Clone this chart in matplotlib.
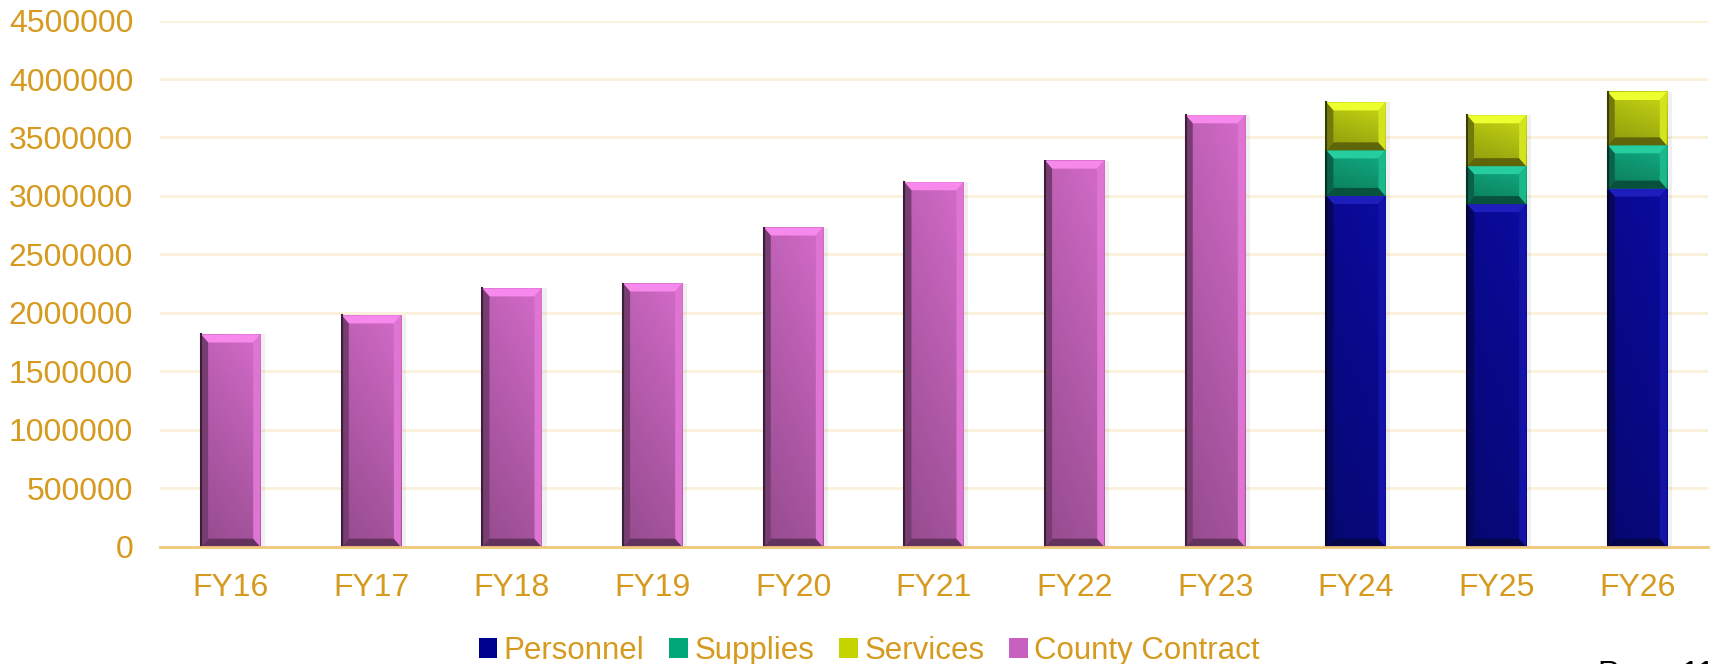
import numpy as np
import matplotlib.pyplot as plt
from matplotlib.patches import Polygon, Patch, Rectangle
from matplotlib.colors import to_rgb, rgb_to_hsv, hsv_to_rgb

# data
years = ["FY16", "FY17", "FY18", "FY19", "FY20", "FY21", "FY22", "FY23", "FY24", "FY25", "FY26"]
county = [1815000, 1978000, 2209000, 2251000, 2730000, 3117000, 3302000, 3690000, 0, 0, 0]
personnel = [0, 0, 0, 0, 0, 0, 0, 0, 3000000, 2930000, 3063000]
supplies = [0, 0, 0, 0, 0, 0, 0, 0, 390000, 325000, 370000]
services = [0, 0, 0, 0, 0, 0, 0, 0, 410000, 435000, 456000]
yticks = list(range(0, 4500001, 500000))

gold = "#D69A1E"
plt.rcParams['font.family'] = ['Liberation Sans', 'DejaVu Sans']


def shade(c, vf, sf=1.0):
    h, s, v = rgb_to_hsv(np.array(to_rgb(c)))
    return tuple(hsv_to_rgb([h, min(1, s * sf), min(1, v * vf)]))


fig = plt.figure(figsize=(17.11, 6.64), dpi=100)
ax = fig.add_axes([0.0937, 0.1767, 0.9043, 0.7923])

x = np.arange(len(years))
w = 0.42
series = [
    (personnel, "Personnel", "#0A0A96", "#00008F"),
    (supplies, "Supplies", "#10A47A", "#00A878"),
    (services, "Services", "#BCCC12", "#C4D400"),
    (county, "County Contract", "#C664BC", "#C860C0"),
]

ax.set_xlim(-0.5, len(years) - 0.5)
ax.set_ylim(0, 4500000)
bb = ax.get_window_extent()
dx = 7 / bb.width * (len(years))
dy = 8 / bb.height * 4500000
sx = 5 / bb.width * (len(years))

bottom = np.zeros(len(years))
handles = []
for vals, name, col, lcol in series:
    bars = ax.bar(x, vals, w, bottom=bottom, color=col, edgecolor="none", zorder=3)
    for b in bars:
        x0, y0 = b.get_x(), b.get_y()
        x1, y1 = x0 + b.get_width(), y0 + b.get_height()
        if b.get_height() <= 0:
            continue
        # soft shadow
        ax.add_patch(Rectangle((x1, y0), sx, y1 - y0, color="#000000", alpha=0.06, lw=0, zorder=2))
        # face gradient (top lighter, bottom darker; right side lighter)
        gy = np.linspace(0, 1, 50)[:, None, None]
        gx = np.linspace(0, 1, 20)[None, :, None]
        top_c = np.array(shade(col, 1.03))
        bot_c = np.array(shade(col, 0.8))
        img = top_c * (1 - gy) + bot_c * gy
        img = np.clip(img * (0.94 + 0.1 * gx), 0, 1)
        ax.imshow(img, extent=[x0, x1, y0, y1], aspect="auto", zorder=3.1, interpolation="bilinear")
        # bevel edges
        ax.add_patch(Polygon([(x0, y1), (x1, y1), (x1 - dx, y1 - dy), (x0 + dx, y1 - dy)],
                             color=shade(col, 1.25, 0.9), lw=0, zorder=3.2))
        ax.add_patch(Polygon([(x0, y0), (x1, y0), (x1 - dx, y0 + dy), (x0 + dx, y0 + dy)],
                             color=shade(col, 0.5), lw=0, zorder=3.2))
        ax.add_patch(Polygon([(x0, y0), (x0, y1), (x0 + dx, y1 - dy), (x0 + dx, y0 + dy)],
                             color=shade(col, 0.6), lw=0, zorder=3.2))
        ax.add_patch(Polygon([(x1, y0), (x1, y1), (x1 - dx, y1 - dy), (x1 - dx, y0 + dy)],
                             color=shade(col, 1.12, 0.95), lw=0, zorder=3.2))
        ax.plot([x0, x0], [y0, y1], color=shade(col, 0.3), lw=1.5, zorder=3.3)
    bottom += np.array(vals)
    handles.append(Patch(facecolor=lcol, edgecolor="none", label=name))

ax.set_xlim(-0.5, len(years) - 0.5)
ax.set_ylim(0, 4500000)

ax.set_xticks(x)
ax.set_xticklabels(years)
ax.set_yticks(yticks)
ax.set_yticklabels([str(v) for v in yticks])
ax.tick_params(axis="y", length=0, pad=19.5, labelsize=23, labelcolor=gold)
ax.tick_params(axis="x", length=0, pad=19, labelsize=23, labelcolor=gold)

ax.yaxis.grid(True, color="#FBF1DA", lw=2)
ax.set_axisbelow(True)
for s in ["top", "right", "left"]:
    ax.spines[s].set_visible(False)
ax.spines["bottom"].set_color("#F0C87A")
ax.spines["bottom"].set_linewidth(2)
ax.spines["bottom"].set_zorder(4)

fig.legend(handles=handles, loc="center", bbox_to_anchor=(0.508, 1 - 651 / 664), ncol=4,
           frameon=False, fontsize=22.5, handlelength=0.6, handleheight=0.6,
           handletextpad=0.2, columnspacing=0.8, labelcolor=gold, borderaxespad=0)

fig.text(1598 / 1711, 1 - 660 / 664, "Page 11", fontsize=23, color="black", va="top", ha="left")

fig.savefig("out.png", dpi=100)
